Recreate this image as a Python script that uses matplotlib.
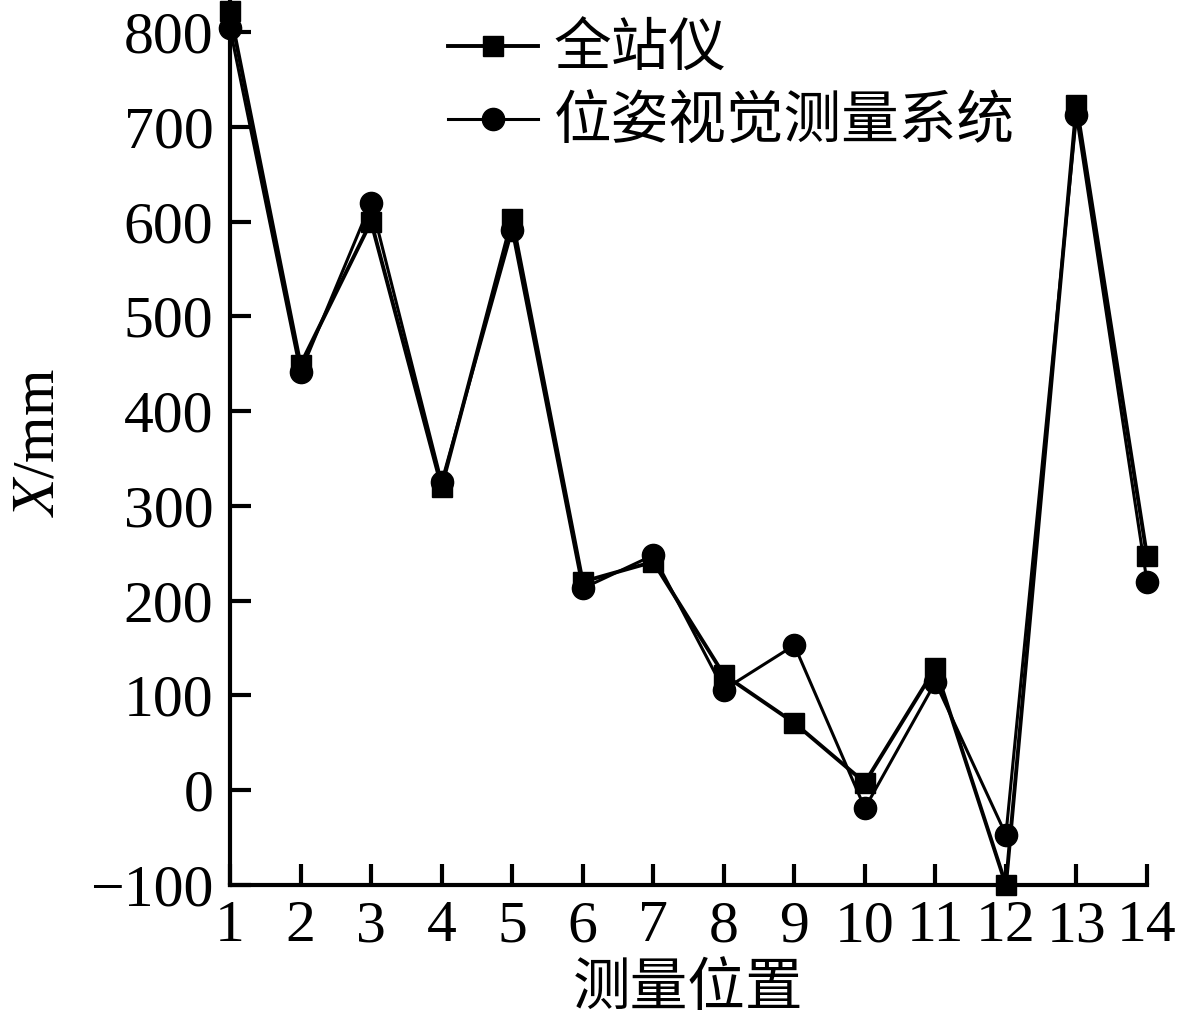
import matplotlib
matplotlib.use("Agg")
import matplotlib.pyplot as plt

plt.rcParams["mathtext.fontset"] = "stix"

positions = list(range(1, 15))
total_station = [822, 449, 600, 320, 603, 220, 241, 122, 71, 8, 129, -100, 723, 247]
vision_system = [804, 441, 620, 325, 591, 213, 248, 106, 153, -19, 114, -47, 712, 220]
series_labels = ["全站仪", "位姿视觉测量系统"]
yticks = [-100, 0, 100, 200, 300, 400, 500, 600, 700, 800]
xlabel = "测量位置"

serif = ["Liberation Serif", "DejaVu Serif"]
cjk = ["Noto Sans CJK SC", "DejaVu Sans"]

fig = plt.figure(figsize=(11.88, 10.25), dpi=100)
ax = fig.add_axes([230/1188, 1 - 885/1025, (1147-230)/1188, 885/1025])

ax.plot(positions, total_station, color="black", lw=2.8, marker="s", ms=14.4,
        label=series_labels[0], clip_on=False, zorder=3)
ax.plot(positions, vision_system, color="black", lw=2.2, marker="o", ms=16,
        label=series_labels[1], clip_on=False, zorder=4)

ax.set_xlim(1, 14)
ax.set_ylim(-100, 833.8)
ax.set_xticks(positions)
ax.set_yticks(yticks)

for s in ["top", "right"]:
    ax.spines[s].set_visible(False)
for s in ["left", "bottom"]:
    ax.spines[s].set_linewidth(3)

ax.tick_params(direction="in", length=15, width=3, labelsize=43)
ax.tick_params(axis="x", pad=11)
ax.tick_params(axis="y", pad=12)
for lab in ax.get_xticklabels() + ax.get_yticklabels():
    lab.set_family(serif)

ax.set_xlabel(xlabel, fontsize=41.5, family=cjk, labelpad=4)
ax.set_ylabel(r"$X$/mm", fontsize=43, family=serif, labelpad=17)

leg = ax.legend(loc="upper left", bbox_to_anchor=(0.238, 0.977), frameon=False,
                prop={"family": cjk, "size": 41.5}, handlelength=1.55,
                handletextpad=0.28, labelspacing=0.25, borderpad=0,
                borderaxespad=0)

fig.savefig("out.png", dpi=100)
